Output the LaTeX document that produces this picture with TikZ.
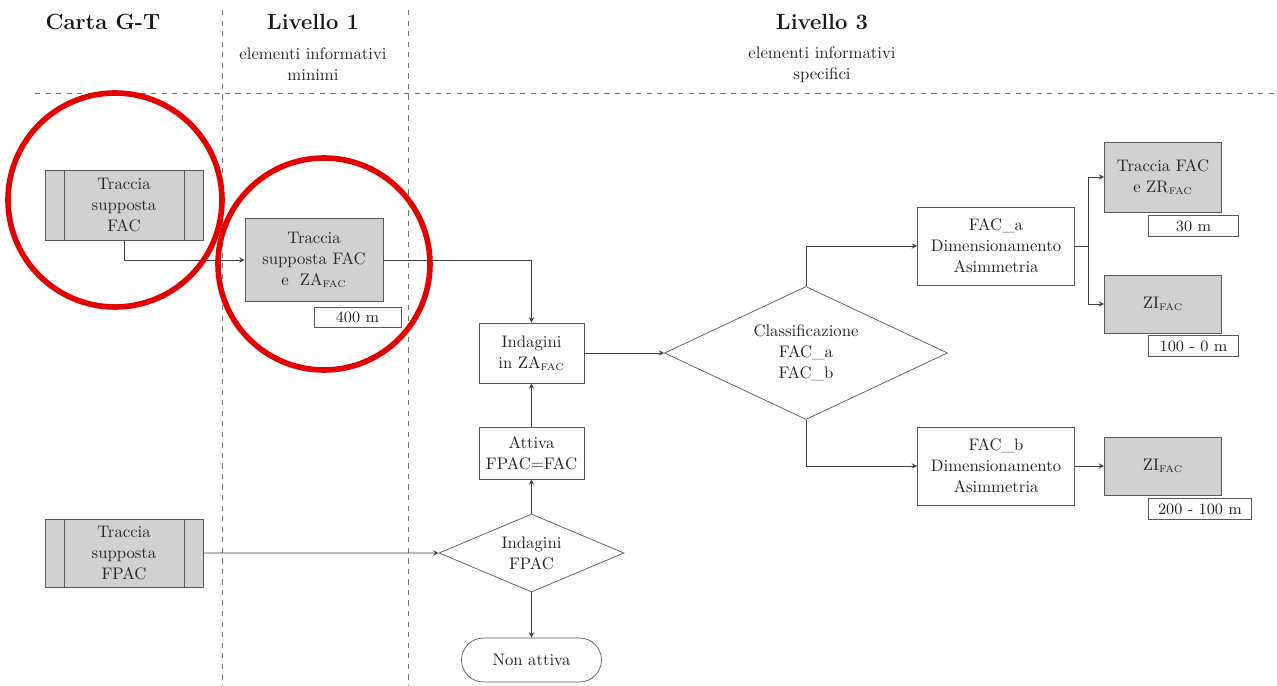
\documentclass[tikz,border=0pt]{standalone}
\usetikzlibrary{shapes.geometric,positioning}

\tikzstyle{txt}  = [font=\fontsize{9.5}{12}\selectfont, text=black!85, align=center]
\tikzstyle{ttl}  = [font=\fontsize{12.5}{15}\selectfont\bfseries, text=black!90]
\tikzstyle{sqr}  = [txt, rectangle, draw=black!65, fill=white, inner sep=1pt]
\tikzstyle{gry}  = [sqr, fill=black!18]
\tikzstyle{prc}  = [gry, minimum width=3.16cm, minimum height=1.4cm,
  path picture={\draw[black!65] ([xshift=0.38cm]path picture bounding box.north west) -- ([xshift=0.38cm]path picture bounding box.south west);
                \draw[black!65] ([xshift=-0.38cm]path picture bounding box.north east) -- ([xshift=-0.38cm]path picture bounding box.south east);}]
\tikzstyle{len}  = [sqr, font=\fontsize{9}{10}\selectfont, minimum height=0.42cm, anchor=north east]
\tikzstyle{dec}  = [txt, diamond, draw=black!65, fill=white, inner sep=0pt, aspect=2.3]
\tikzstyle{trm}  = [sqr, rounded corners=0.44cm, minimum width=2.8cm, minimum height=0.88cm]
\tikzstyle{arrow} = [thin, black!75, ->, >=stealth]
\tikzstyle{sep}  = [black!55, dashed, thin]
\tikzstyle{ring} = [red!90!black, line width=3.2pt]

\newcommand{\fac}{\textsubscript{\fontsize{5.5}{6}\selectfont FAC}}

\begin{document}
\begin{tikzpicture}[node distance=2cm]
\useasboundingbox (0,0) rectangle (25.54,-13.72);

%% Columns
\draw [sep] (4.44,-0.2) -- (4.44,-13.72);
\draw [sep] (8.16,-0.2) -- (8.16,-13.72);
\draw [sep] (0.7,-1.86) -- (25.54,-1.86);

%% Titles
\node (tit_gt) [ttl] at (2.06,-0.44) {Carta G-T};
\node (tit_l1) [ttl] at (6.26,-0.44) {Livello 1};
\node (sub_l1) [txt] at (6.26,-1.29) {elementi informativi\\minimi};
\node (tit_l3) [ttl] at (16.44,-0.44) {Livello 3};
\node (sub_l3) [txt] at (16.44,-1.29) {elementi informativi\\specifici};

%% Carta G-T
\node (gt_fac) [prc] at (2.48,-4.10) {Traccia\\supposta\\FAC};
\node (gt_fpac) [prc, minimum height=1.36cm] at (2.48,-11.06) {Traccia\\supposta\\FPAC};

%% Livello 1
\node (l1_fac) [gry, minimum width=2.76cm, minimum height=1.66cm] at (6.28,-5.20) {Traccia\\supposta FAC\\e\ \ ZA\fac};
\node (m400) [len, minimum width=1.74cm, minimum height=0.4cm] at ([xshift=0.36cm,yshift=-0.1cm]l1_fac.south east) {400 m};

%% Livello 3 - indagini
\node (ind_za) [sqr, minimum width=2.1cm, minimum height=1.2cm] at (10.63,-7.06) {Indagini\\in ZA\fac};
\node (attiva) [sqr, minimum width=2.1cm, minimum height=1.04cm, below of=ind_za] {Attiva\\FPAC=FAC};
\node (ind_fpac) [dec, minimum width=3.7cm, minimum height=1.56cm, below of=attiva] {Indagini\\FPAC};
\node (non_att) [trm, below of=ind_fpac, yshift=-0.14cm] {Non attiva};

%% Livello 3 - classificazione
\node (classif) [dec, minimum width=5.66cm, minimum height=2.66cm, right of=ind_za, xshift=3.49cm] {Classificazione\\FAC\_a\\FAC\_b};
\node (fac_a) [sqr, minimum width=3.14cm, minimum height=1.56cm, right of=classif, xshift=1.8cm, yshift=2.14cm] {FAC\_a\\Dimensionamento\\Asimmetria};
\node (fac_b) [sqr, minimum width=3.14cm, minimum height=1.56cm, right of=classif, xshift=1.8cm, yshift=-2.26cm] {FAC\_b\\Dimensionamento\\Asimmetria};
\node (tr_zr) [gry, minimum width=2.34cm, minimum height=1.4cm] at (23.26,-3.54) {Traccia FAC\\e ZR\fac};
\node (zi_a) [gry, minimum width=2.34cm, minimum height=1.16cm] at (23.26,-6.08) {ZI\fac};
\node (zi_b) [gry, minimum width=2.34cm, minimum height=1.16cm, right of=fac_b, xshift=1.34cm] {ZI\fac};

%% Distances
\node (m30) [len, minimum width=1.8cm] at ([xshift=0.34cm,yshift=-0.06cm]tr_zr.south east) {30 m};
\node (m100) [len, minimum width=1.8cm] at ([xshift=0.34cm,yshift=-0.04cm]zi_a.south east) {100 - 0 m};
\node (m200) [len, minimum width=2.06cm] at ([xshift=0.6cm,yshift=-0.06cm]zi_b.south east) {200 - 100 m};

%% Arrows
\draw [arrow] (gt_fac.south) |- (l1_fac.west);
\draw [arrow] (l1_fac.east) -| (ind_za.north);
\draw [arrow] (gt_fpac.east) -- (ind_fpac.west);
\draw [arrow] (ind_fpac.north) -- (attiva.south);
\draw [arrow] (attiva.north) -- (ind_za.south);
\draw [arrow] (ind_fpac.south) -- (non_att.north);
\draw [arrow] (ind_za.east) -- (classif.west);
\draw [arrow] (classif.north) |- (fac_a.west);
\draw [arrow] (classif.south) |- (fac_b.west);
\coordinate (split) at ([xshift=0.26cm]fac_a.east);
\draw [thin, black!75] (fac_a.east) -- (split);
\draw [arrow] (split) |- (tr_zr.west);
\draw [arrow] (split) |- (zi_a.west);
\draw [arrow] (fac_b.east) -- (zi_b.west);

%% Highlights
\draw [ring] (2.30,-4.00) circle (2.14cm);
\draw [ring] (6.48,-5.28) circle (2.12cm);
\end{tikzpicture}
\end{document}
